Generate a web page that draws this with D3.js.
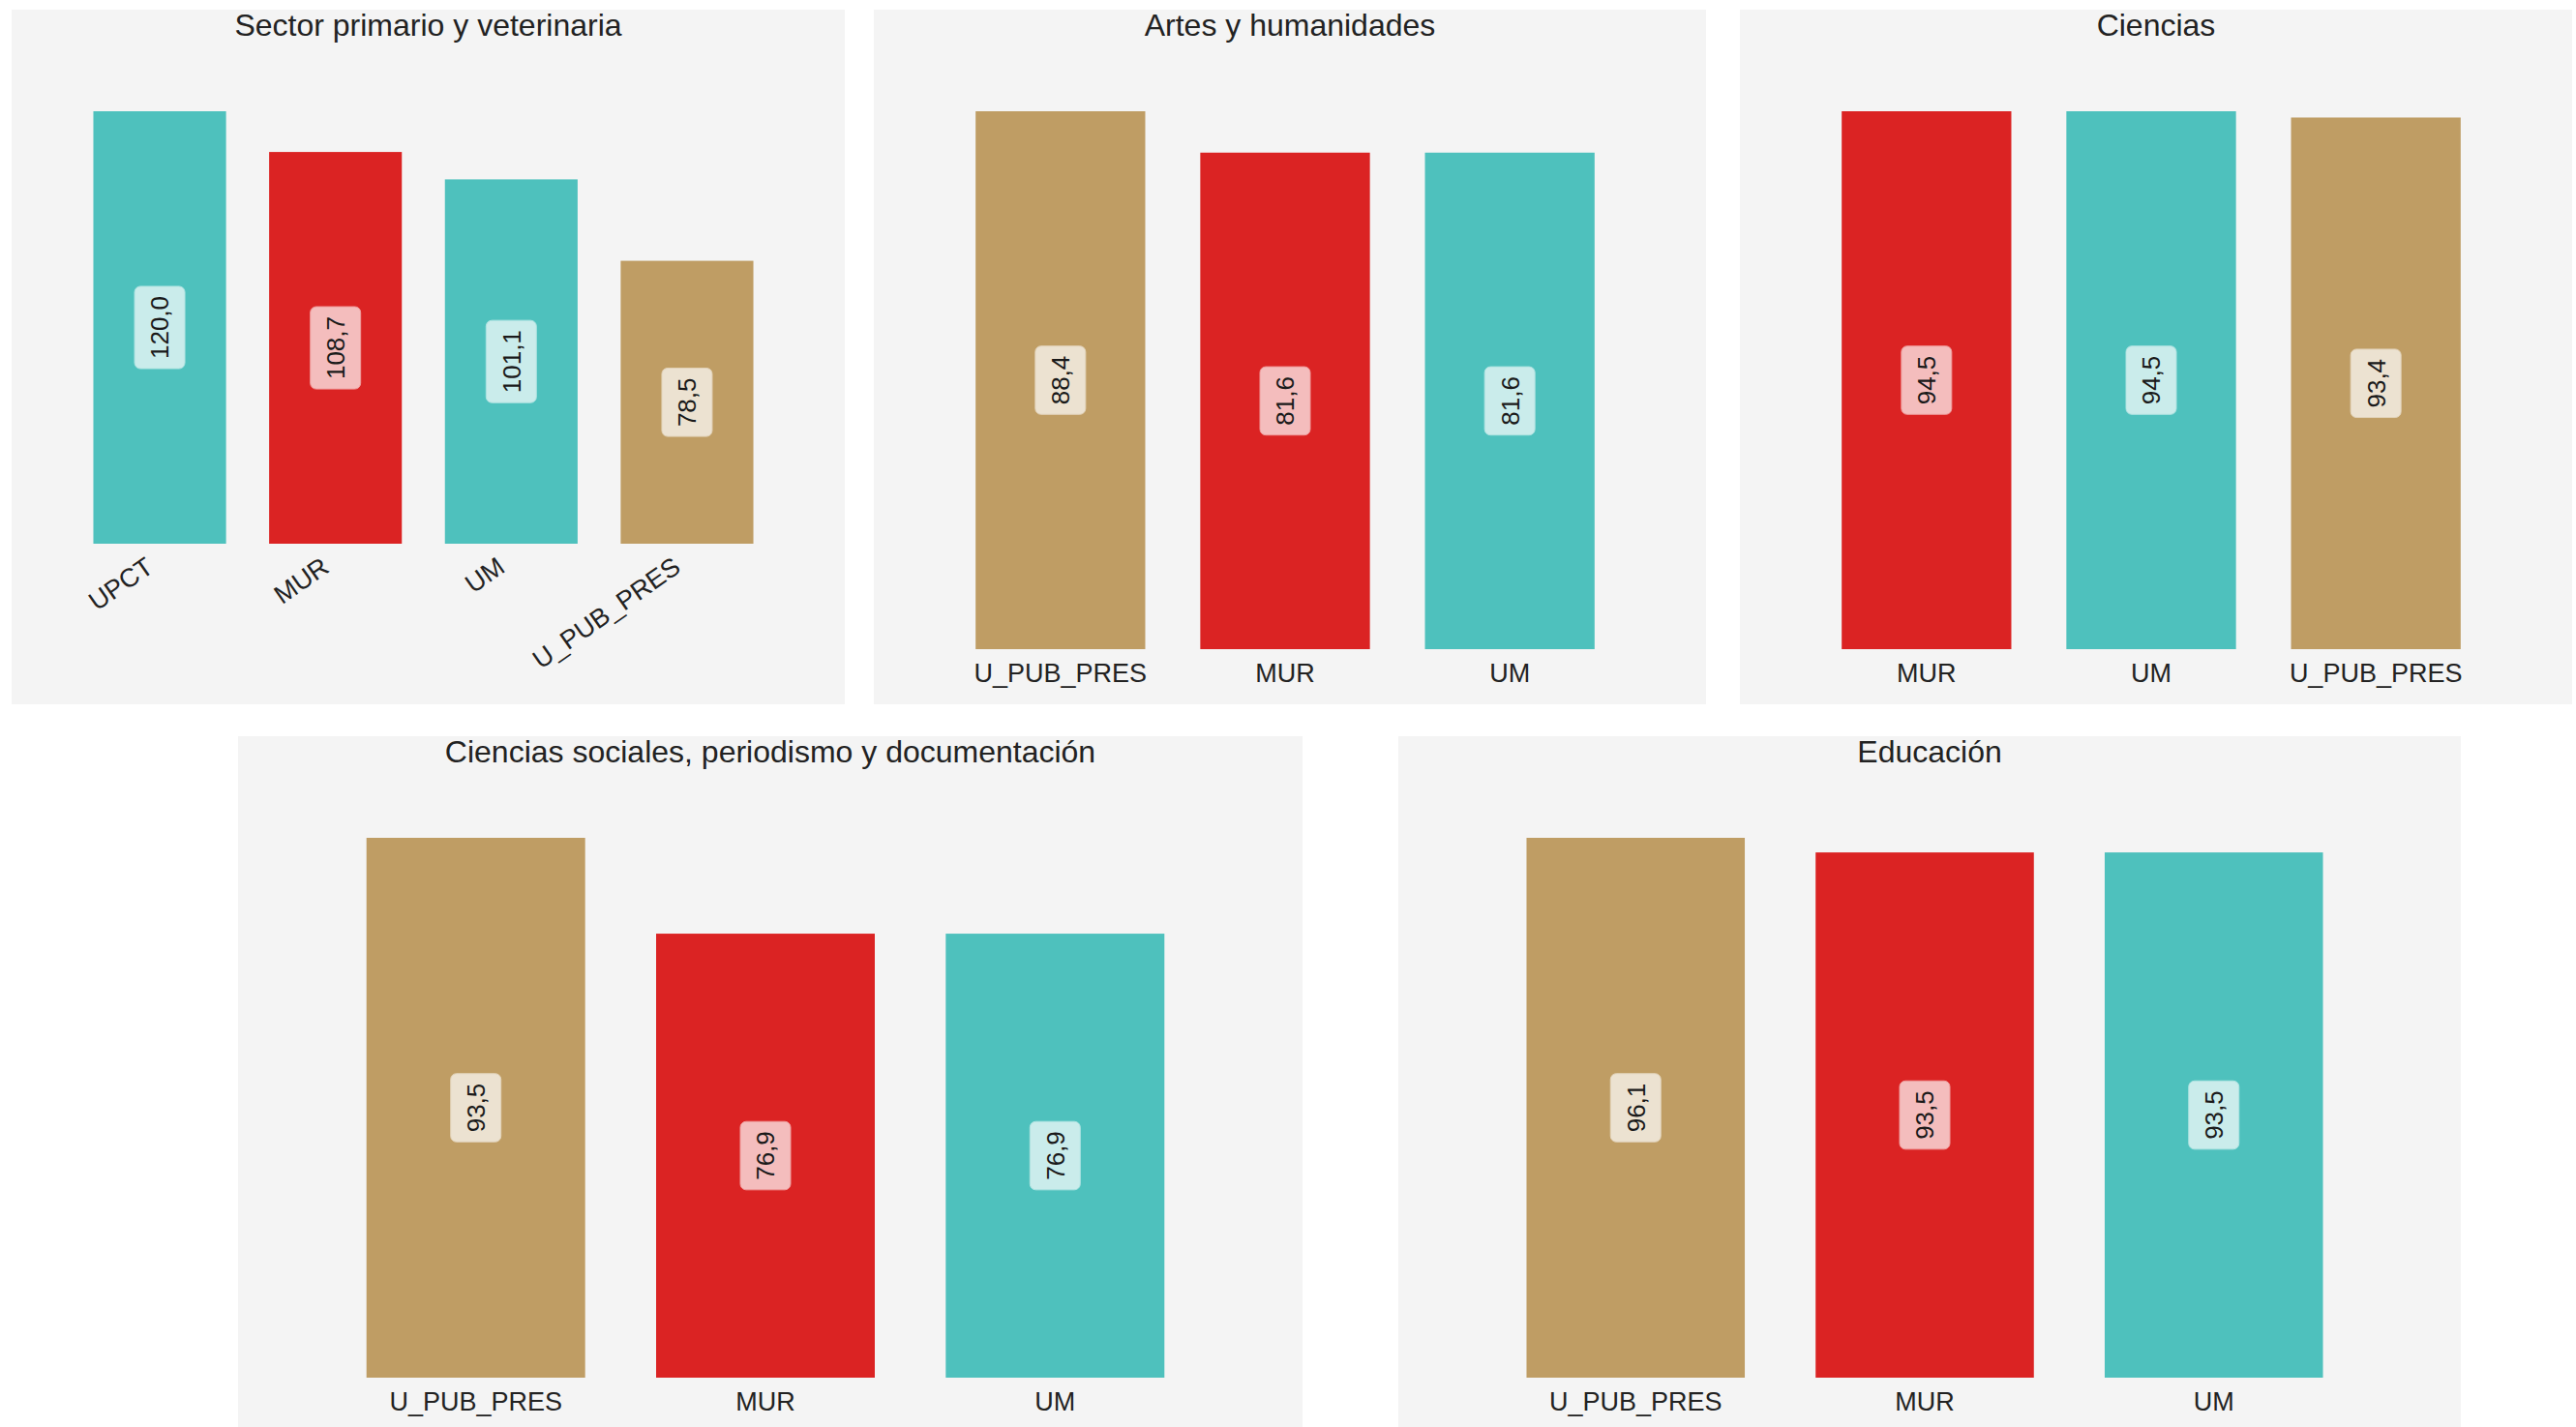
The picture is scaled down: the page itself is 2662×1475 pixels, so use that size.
<!doctype html>
<html lang="en">
<head>
  <meta charset="utf-8">
  <script src="https://cdn.jsdelivr.net/npm/d3@7"></script>
  <style>
    body { margin: 0; background: #fff; }
    svg { display: block; font-family: "Liberation Sans", Arial, sans-serif; }
  </style>
</head>
<body>
<svg width="2662" height="1475"></svg>
<script>

// data
var panelTitles = [
  "Sector primario y veterinaria",
  "Artes y humanidades",
  "Ciencias",
  "Ciencias sociales, periodismo y documentación",
  "Educación"
];

var panelCategories = [
  ["UPCT", "MUR", "UM", "U_PUB_PRES"],
  ["U_PUB_PRES", "MUR", "UM"],
  ["MUR", "UM", "U_PUB_PRES"],
  ["U_PUB_PRES", "MUR", "UM"],
  ["U_PUB_PRES", "MUR", "UM"]
];

var panelValues = [
  [120.0, 108.7, 101.1, 78.5],
  [88.4, 81.6, 81.6],
  [94.5, 94.5, 93.4],
  [93.5, 76.9, 76.9],
  [96.1, 93.5, 93.5]
];

var universities = ["UPCT", "UM", "MUR", "U_PUB_PRES"];
var uniColors = ["#4ec1bd", "#4ec1bd", "#db2323", "#bf9d64"];

// panel boxes
var panels = [
  {x: 12,   y: 10,  w: 861,  h: 718, bottom: 166, rotate: true},
  {x: 903,  y: 10,  w: 860,  h: 718, bottom: 57},
  {x: 1798, y: 10,  w: 860,  h: 718, bottom: 57},
  {x: 246,  y: 761, w: 1100, h: 714, bottom: 51},
  {x: 1445, y: 761, w: 1098, h: 714, bottom: 51}
];

var color = d3.scaleOrdinal().domain(universities).range(uniColors);

var locale = d3.formatLocale({decimal: ",", thousands: ".", grouping: [3], currency: ["", "€"]});
var fmt = locale.format(".1f");

var svg = d3.select("svg");

panels.forEach(function(p, i) {
  var cats = panelCategories[i],
      vals = panelValues[i],
      rows = cats.map(function(c, j) { return {cat: c, value: vals[j]}; });

  var g = svg.append("g").attr("transform", "translate(" + p.x + "," + p.y + ")");

  g.append("rect")
      .attr("width", p.w)
      .attr("height", p.h)
      .attr("fill", "#f4f4f4");

  g.append("text")
      .attr("x", p.w / 2)
      .attr("y", 27)
      .attr("text-anchor", "middle")
      .attr("font-size", 32)
      .attr("fill", "#222")
      .text(panelTitles[i]);

  var bottom = p.h - p.bottom;

  var x = d3.scaleBand()
      .domain(cats)
      .range([10, p.w - 20])
      .paddingInner(0.245)
      .paddingOuter(0.41);

  var y = d3.scaleLinear()
      .domain([0, d3.max(vals)])
      .range([bottom, 105]);

  g.selectAll(".bar")
    .data(rows)
    .enter().append("rect")
      .attr("class", "bar")
      .attr("x", function(d) { return x(d.cat); })
      .attr("y", function(d) { return y(d.value); })
      .attr("width", x.bandwidth())
      .attr("height", function(d) { return bottom - y(d.value); })
      .attr("fill", function(d) { return color(d.cat); });

  // value labels, rotated, in rounded boxes
  var lab = g.selectAll(".lab")
    .data(rows)
    .enter().append("g")
      .attr("class", "lab")
      .attr("transform", function(d) {
        var cx = x(d.cat) + x.bandwidth() / 2,
            cy = (y(d.value) + bottom) / 2;
        return "translate(" + cx + "," + cy + ") rotate(-90)";
      });

  lab.append("rect")
      .attr("rx", 6)
      .attr("fill", function(d) { return d3.interpolateRgb(color(d.cat), "#fff")(0.7); })
      .attr("stroke", function(d) { return d3.interpolateRgb(color(d.cat), "#fff")(0.55); })
      .attr("stroke-width", 1);

  var txt = lab.append("text")
      .attr("text-anchor", "middle")
      .attr("dy", "0.36em")
      .attr("font-size", 26)
      .attr("fill", "#1a1a1a")
      .text(function(d) { return fmt(d.value); });

  txt.each(function() {
    var len = this.getComputedTextLength(),
        bw = len + 20,
        bh = 52;
    d3.select(this.previousSibling)
        .attr("x", -bw / 2)
        .attr("y", -bh / 2)
        .attr("width", bw)
        .attr("height", bh);
  });

  // category labels
  var ticks = g.selectAll(".tick")
    .data(cats)
    .enter().append("text")
      .attr("class", "tick")
      .attr("font-size", 27)
      .attr("fill", "#222")
      .text(function(d) { return d; });

  if (p.rotate) {
    ticks
        .attr("text-anchor", "end")
        .attr("dy", "0.72em")
        .attr("transform", function(d) {
          return "translate(" + (x(d) + x.bandwidth() / 2 - 16) + "," + (bottom + 12) + ") rotate(-35)";
        });
  } else {
    ticks
        .attr("text-anchor", "middle")
        .attr("x", function(d) { return x(d) + x.bandwidth() / 2; })
        .attr("y", bottom + 34);
  }
});

</script>
</body>
</html>
